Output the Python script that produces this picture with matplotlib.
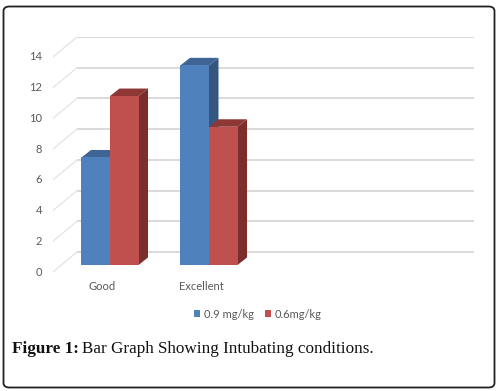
import numpy as np
import matplotlib
matplotlib.use("Agg")
import matplotlib.pyplot as plt
from matplotlib.patches import Polygon, FancyBboxPatch, Patch

categories = ["Good", "Excellent"]
series_names = ["0.9 mg/kg", "0.6mg/kg"]
values_09 = [7, 13]
values_06 = [11, 9]
yticks = [0, 2, 4, 6, 8, 10, 12, 14]

W, H = 498, 391
fig = plt.figure(figsize=(W / 100, H / 100), dpi=100)
fig.patch.set_facecolor("white")

# pixel geometry helpers
px_per_unit_y = 15.36
px_per_unit_x = 99.0
x0_pix, y0_pix = 110.0, 265.0   # category 0 center, bar base
left_pix, right_pix, top_pix, bot_pix = 53.0, 474.0, 37.0, 272.0

ax = fig.add_axes([left_pix / W, 1 - bot_pix / H, (right_pix - left_pix) / W, (bot_pix - top_pix) / H])
ax.set_xlim((left_pix - x0_pix) / px_per_unit_x, (right_pix - x0_pix) / px_per_unit_x)
ax.set_ylim((y0_pix - bot_pix) / px_per_unit_y, (y0_pix - top_pix) / px_per_unit_y)
ax.axis("off")

front_off = (y0_pix - bot_pix) / px_per_unit_y      # label plane offset (negative)
wall_dy = (y0_pix - 252.0) / px_per_unit_y           # back wall offset
wall_x0 = (77.0 - x0_pix) / px_per_unit_x
wall_x1 = (474.0 - x0_pix) / px_per_unit_x
side_x0 = (53.0 - x0_pix) / px_per_unit_x

grid_col = "#D9D9D9"
for v in yticks:
    ax.plot([wall_x0, wall_x1], [v + wall_dy, v + wall_dy], color=grid_col, lw=1.4, zorder=1, solid_capstyle="butt")
    ax.plot([side_x0, wall_x0], [v + front_off, v + wall_dy], color="#E3E3E3", lw=0.9, zorder=1)

# tick labels
txt_col = "#595959"
font = "Lato"
for v in yticks:
    ax.text((42 - x0_pix) / px_per_unit_x, v + front_off, str(v), ha="right", va="center",
            fontsize=8, color=txt_col, family=font, clip_on=False)

x = np.arange(len(categories))
w = 0.288
dx = 9.5 / px_per_unit_x
dy = 7.5 / px_per_unit_y

series = [values_09, values_06]
front_cols = ["#4F81BD", "#C0504D"]
side_cols = ["#35567F", "#7B2E2C"]
top_cols = ["#3E6594", "#8E3734"]
offsets = [-w / 2, w / 2]

for ci in range(len(categories)):
    for si, vals in enumerate(series):
        xc = x[ci] + offsets[si]
        v = vals[ci]
        ax.bar(xc, v, width=w, color=front_cols[si], zorder=3 + ci * 10 + si * 3, linewidth=0)
        xl, xr = xc - w / 2, xc + w / 2
        side = Polygon([(xr, 0), (xr + dx, dy), (xr + dx, v + dy), (xr, v)], closed=True,
                       facecolor=side_cols[si], edgecolor="none", zorder=2 + ci * 10 + si * 3)
        top = Polygon([(xl, v), (xl + dx, v + dy), (xr + dx, v + dy), (xr, v)], closed=True,
                      facecolor=top_cols[si], edgecolor="none", zorder=2 + ci * 10 + si * 3)
        ax.add_patch(side)
        ax.add_patch(top)

# category labels
for ci, c in enumerate(categories):
    ax.text(x[ci] - 8 / px_per_unit_x, (y0_pix - 287) / px_per_unit_y, c, ha="center", va="center",
            fontsize=8, color=txt_col, family=font, clip_on=False)

handles = [Patch(facecolor=front_cols[i], edgecolor="none") for i in range(2)]
fig.legend(handles, series_names, loc="center", bbox_to_anchor=(258 / W, 1 - 314 / H), ncol=2,
           frameon=False, handlelength=0.55, handleheight=0.55, handletextpad=0.35,
           columnspacing=1.0, prop={"family": font, "size": 8}, labelcolor=txt_col)

# caption
cap_size = 12.3
t1 = fig.text(12 / W, 1 - 349 / H, "Figure 1:", fontsize=cap_size, fontweight="bold",
              family="Liberation Serif", va="center", ha="left", color="#111111")
fig.canvas.draw()
bb = t1.get_window_extent()
fig.text((bb.x1 + 3) / W, 1 - 349 / H, "Bar Graph Showing Intubating conditions.", fontsize=cap_size,
         family="Liberation Serif", va="center", ha="left", color="#111111")

# rounded border
border = FancyBboxPatch((3.5 / W, 3.5 / H), (491 / W), (381 / H),
                        boxstyle="round,pad=0,rounding_size=0.012", transform=fig.transFigure,
                        facecolor="none", edgecolor="#222222", lw=1.3)
fig.patches.append(border)

fig.savefig("out.png", dpi=100)
